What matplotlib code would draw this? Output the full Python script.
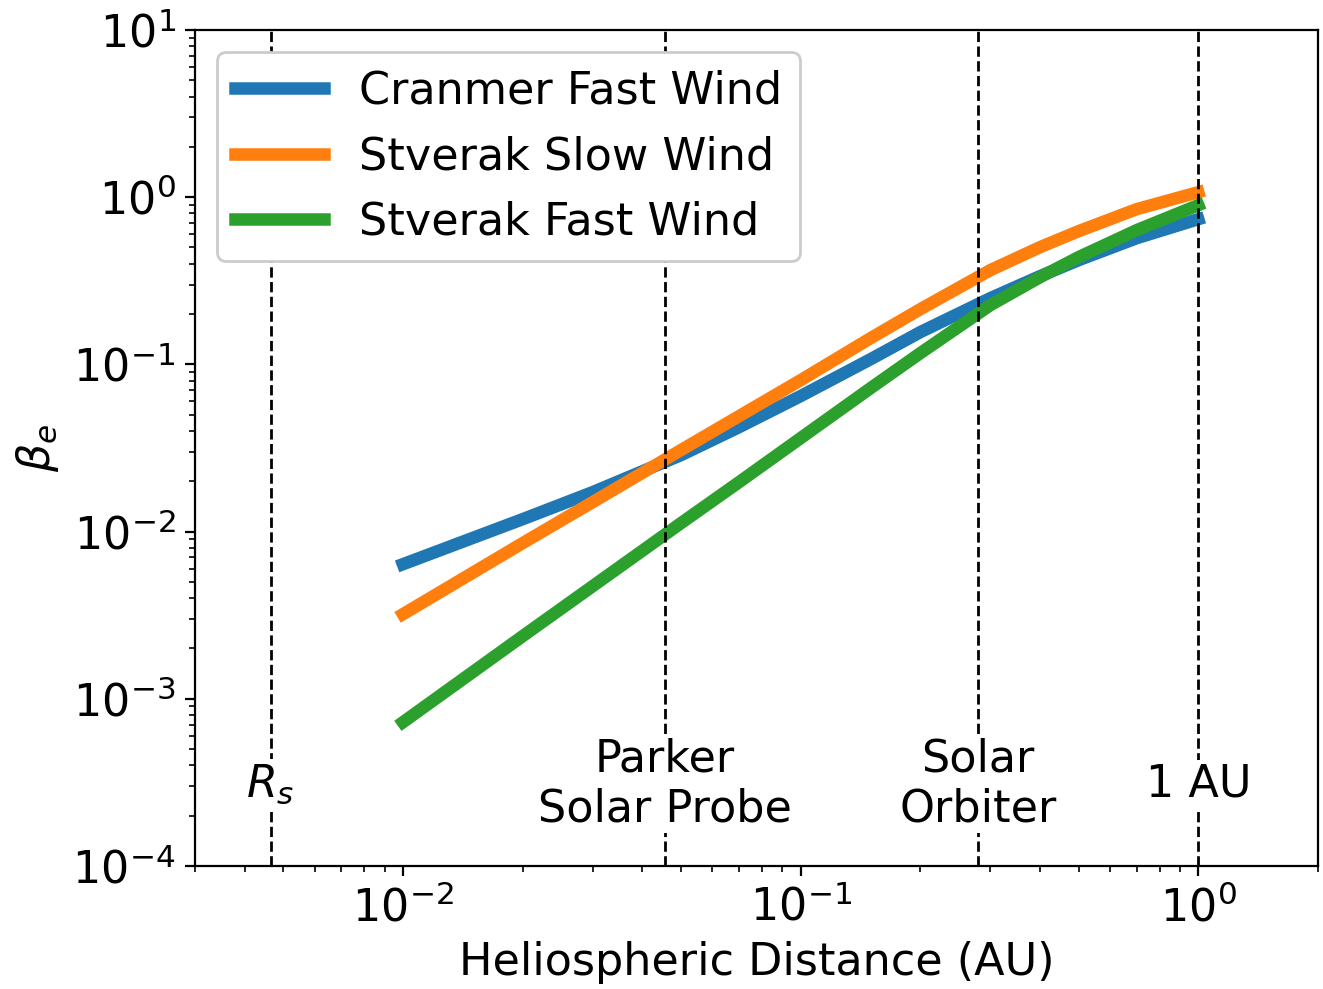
import matplotlib
matplotlib.use("Agg")
import matplotlib.pyplot as plt

# distances (AU) and beta_e
dist = [0.01, 0.02, 0.03, 0.05, 0.07, 0.1, 0.15, 0.2, 0.3, 0.4, 0.5, 0.7, 1.0]
cranmer_fast = [0.00638, 0.01186, 0.01721, 0.02864, 0.0421, 0.0646, 0.1074, 0.1559,
                0.2489, 0.3369, 0.4199, 0.5685, 0.7386]
stverak_slow = [0.003206, 0.00853, 0.0150, 0.0307, 0.0490, 0.0804, 0.1435, 0.2138,
                0.3660, 0.5023, 0.626, 0.8478, 1.071]
stverak_fast = [0.000724, 0.002368, 0.004714, 0.01122, 0.01974, 0.0362, 0.0721, 0.1167,
                0.2260, 0.3322, 0.4377, 0.6348, 0.8958]

markers_x = [0.00465, 0.0455, 0.279, 1.0]
markers_lab = [r"$R_s$", "Parker\nSolar Probe", "Solar\nOrbiter", "1 AU"]

plt.rcParams.update({"font.size": 16})

fig = plt.figure(figsize=(6.615, 4.945), dpi=200)
ax = fig.add_axes([0.1474, 0.1244, 0.8488, 0.8453])

ax.plot(dist, cranmer_fast, lw=4.5, color="#1f77b4", label="Cranmer Fast Wind")
ax.plot(dist, stverak_slow, lw=4.5, color="#ff7f0e", label="Stverak Slow Wind")
ax.plot(dist, stverak_fast, lw=4.5, color="#2ca02c", label="Stverak Fast Wind")

for xv, lab in zip(markers_x, markers_lab):
    ax.axvline(xv, color="k", ls="--", lw=1.0)
    ax.text(xv, 3.1e-4, lab, ha="center", va="center", multialignment="center",
            bbox=dict(facecolor="white", edgecolor="none", pad=1))

ax.set_xscale("log")
ax.set_yscale("log")
ax.set_xlim(3e-3, 2)
ax.set_ylim(1e-4, 10)
ax.set_xlabel("Heliospheric Distance (AU)")
ax.set_ylabel(r"$\beta_e$")
ax.legend(loc="upper left", framealpha=1)

fig.savefig("out.png", dpi=200)
